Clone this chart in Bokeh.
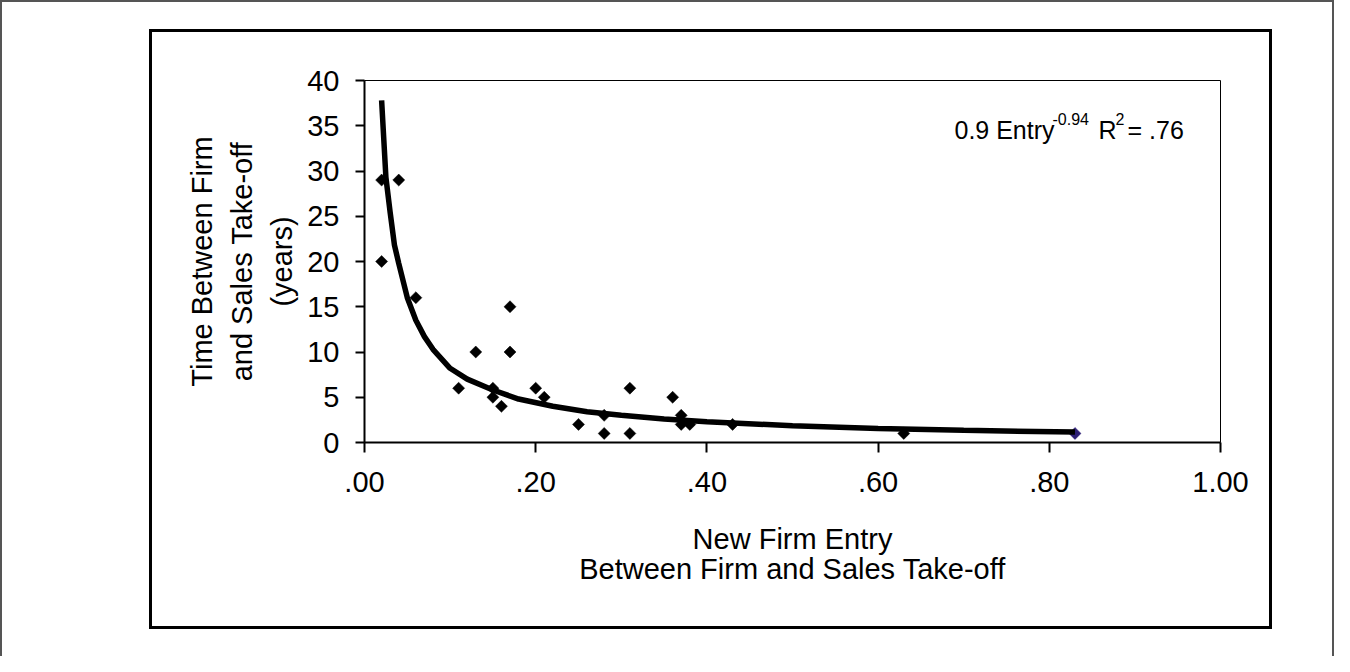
import math
from bokeh.plotting import figure
from bokeh.layouts import column
from bokeh.models import Range1d, FixedTicker, Label
from bokeh.embed import file_html
from bokeh.resources import INLINE

# ---- data ----
entry = [0.02, 0.04, 0.02, 0.06, 0.17, 0.13, 0.17, 0.11, 0.15, 0.15, 0.16, 0.20,
         0.21, 0.25, 0.28, 0.28, 0.31, 0.31, 0.36, 0.37, 0.37, 0.38, 0.43, 0.63]
years = [29, 29, 20, 16, 15, 10, 10, 6, 6, 5, 4, 6,
         5, 2, 3, 1, 6, 1, 5, 3, 2, 2, 2, 1]

entry2 = [0.83]
years2 = [1.0]

trend_x = [0.020, 0.025, 0.030, 0.035, 0.040, 0.050, 0.060, 0.070, 0.080, 0.100, 0.120,
           0.150, 0.180, 0.220, 0.260, 0.300, 0.350, 0.400, 0.500, 0.600, 0.700, 0.830]
trend_y = [37.8, 29.3, 25.4, 21.8, 19.8, 16.0, 13.5, 11.7, 10.3, 8.2, 7.0,
           5.8, 4.8, 4.0, 3.4, 3.0, 2.6, 2.3, 1.85, 1.56, 1.35, 1.15]

x_ticks = [0.0, 0.2, 0.4, 0.6, 0.8, 1.0]
x_tick_labels = [".00", ".20", ".40", ".60", ".80", "1.00"]
y_ticks = [0, 5, 10, 15, 20, 25, 30, 35, 40]
y_tick_labels = ["0", "5", "10", "15", "20", "25", "30", "35", "40"]

x_title = "New Firm Entry\nBetween Firm and Sales Take-off"
y_title = "Time Between Firm\nand Sales Take-off\n(years)"

FONT = "Liberation Sans"

# ---- figure geometry (canvas sits inside the black chart box) ----
W, H = 1123, 600
FL, FT = 212, 48          # frame left/top on canvas
FW, FH = 856, 362         # frame size
p = figure(width=W, height=H, output_backend="svg", toolbar_location=None,
           x_range=Range1d(0, 1.0), y_range=Range1d(0, 40),
           min_border_left=FL, min_border_right=W - FL - FW,
           min_border_top=FT, min_border_bottom=H - FT - FH)
p.background_fill_color = "white"
p.border_fill_color = "white"
p.outline_line_color = "black"
p.outline_line_width = 1
p.xgrid.visible = False
p.ygrid.visible = False
p.styles = {"border": "3px solid black"}

# page pixel -> data helpers (canvas origin at page (160, 40))
def X(px):
    return (px - 160 - FL) / FW * 1.0

def Y(py):
    return (FT + FH + 40 - py) / FH * 40.0

for ax in (p.xaxis[0], p.yaxis[0]):
    ax.axis_line_width = 2
    ax.axis_line_color = "black"
    ax.major_tick_line_width = 2
    ax.major_tick_line_color = "black"
    ax.major_tick_in = 0
    ax.minor_tick_out = 0
    ax.minor_tick_in = 0
    ax.major_label_text_font = FONT
    ax.major_label_text_font_size = "29px"
    ax.major_label_text_color = "black"
    ax.axis_label_text_font = FONT
    ax.axis_label_text_font_size = "29px"
    ax.axis_label_text_font_style = "normal"
    ax.axis_label_text_color = "black"

p.xaxis.ticker = FixedTicker(ticks=x_ticks)
p.xaxis.major_label_overrides = dict(zip(x_ticks, x_tick_labels))
p.xaxis.major_tick_out = 10
p.xaxis.major_label_standoff = 19
p.xaxis.axis_label = x_title
p.xaxis.axis_label_standoff = 28
p.xaxis.axis_label_text_line_height = 0.96

p.yaxis.ticker = FixedTicker(ticks=y_ticks)
p.yaxis.major_label_overrides = dict(zip(y_ticks, y_tick_labels))
p.yaxis.major_tick_out = 9
p.yaxis.major_label_standoff = 16
p.yaxis.axis_label = y_title
p.yaxis.axis_label_standoff = 6
p.yaxis.axis_label_text_line_height = 1.25

# ---- marks ----
p.scatter(entry2, years2, marker="square", size=8.5, angle=math.pi / 4,
          fill_color="#2d1f75", line_color="#2d1f75", line_width=0.5)
p.line(trend_x, trend_y, line_color="black", line_width=5.5)
p.scatter(entry, years, marker="square", size=8.5, angle=math.pi / 4,
          fill_color="black", line_color="black", line_width=0.5)

# ---- equation ----
eq_parts = [("0.9 Entry", 962, 137, "25px"), ("-0.94", 1060, 126, "16px"),
            ("R", 1106, 137, "25px"), ("2", 1123, 126, "16px"), ("= .76", 1135, 137, "25px")]
for txt, lx, by, fs in eq_parts:
    p.add_layout(Label(x=X(lx), y=Y(by), text=txt, text_align="left",
                       text_baseline="alphabetic", text_font=FONT,
                       text_font_size=fs, text_color="black"))

page = column(p, styles={
    "box-sizing": "border-box",
    "width": "1334px", "height": "656px",
    "border-left": "2px solid #555555",
    "border-top": "2px solid #555555",
    "border-right": "2px solid #555555",
    "padding-left": "147px", "padding-top": "27px",
    "background-color": "white",
})

open("out.html", "w").write(file_html(page, INLINE))
